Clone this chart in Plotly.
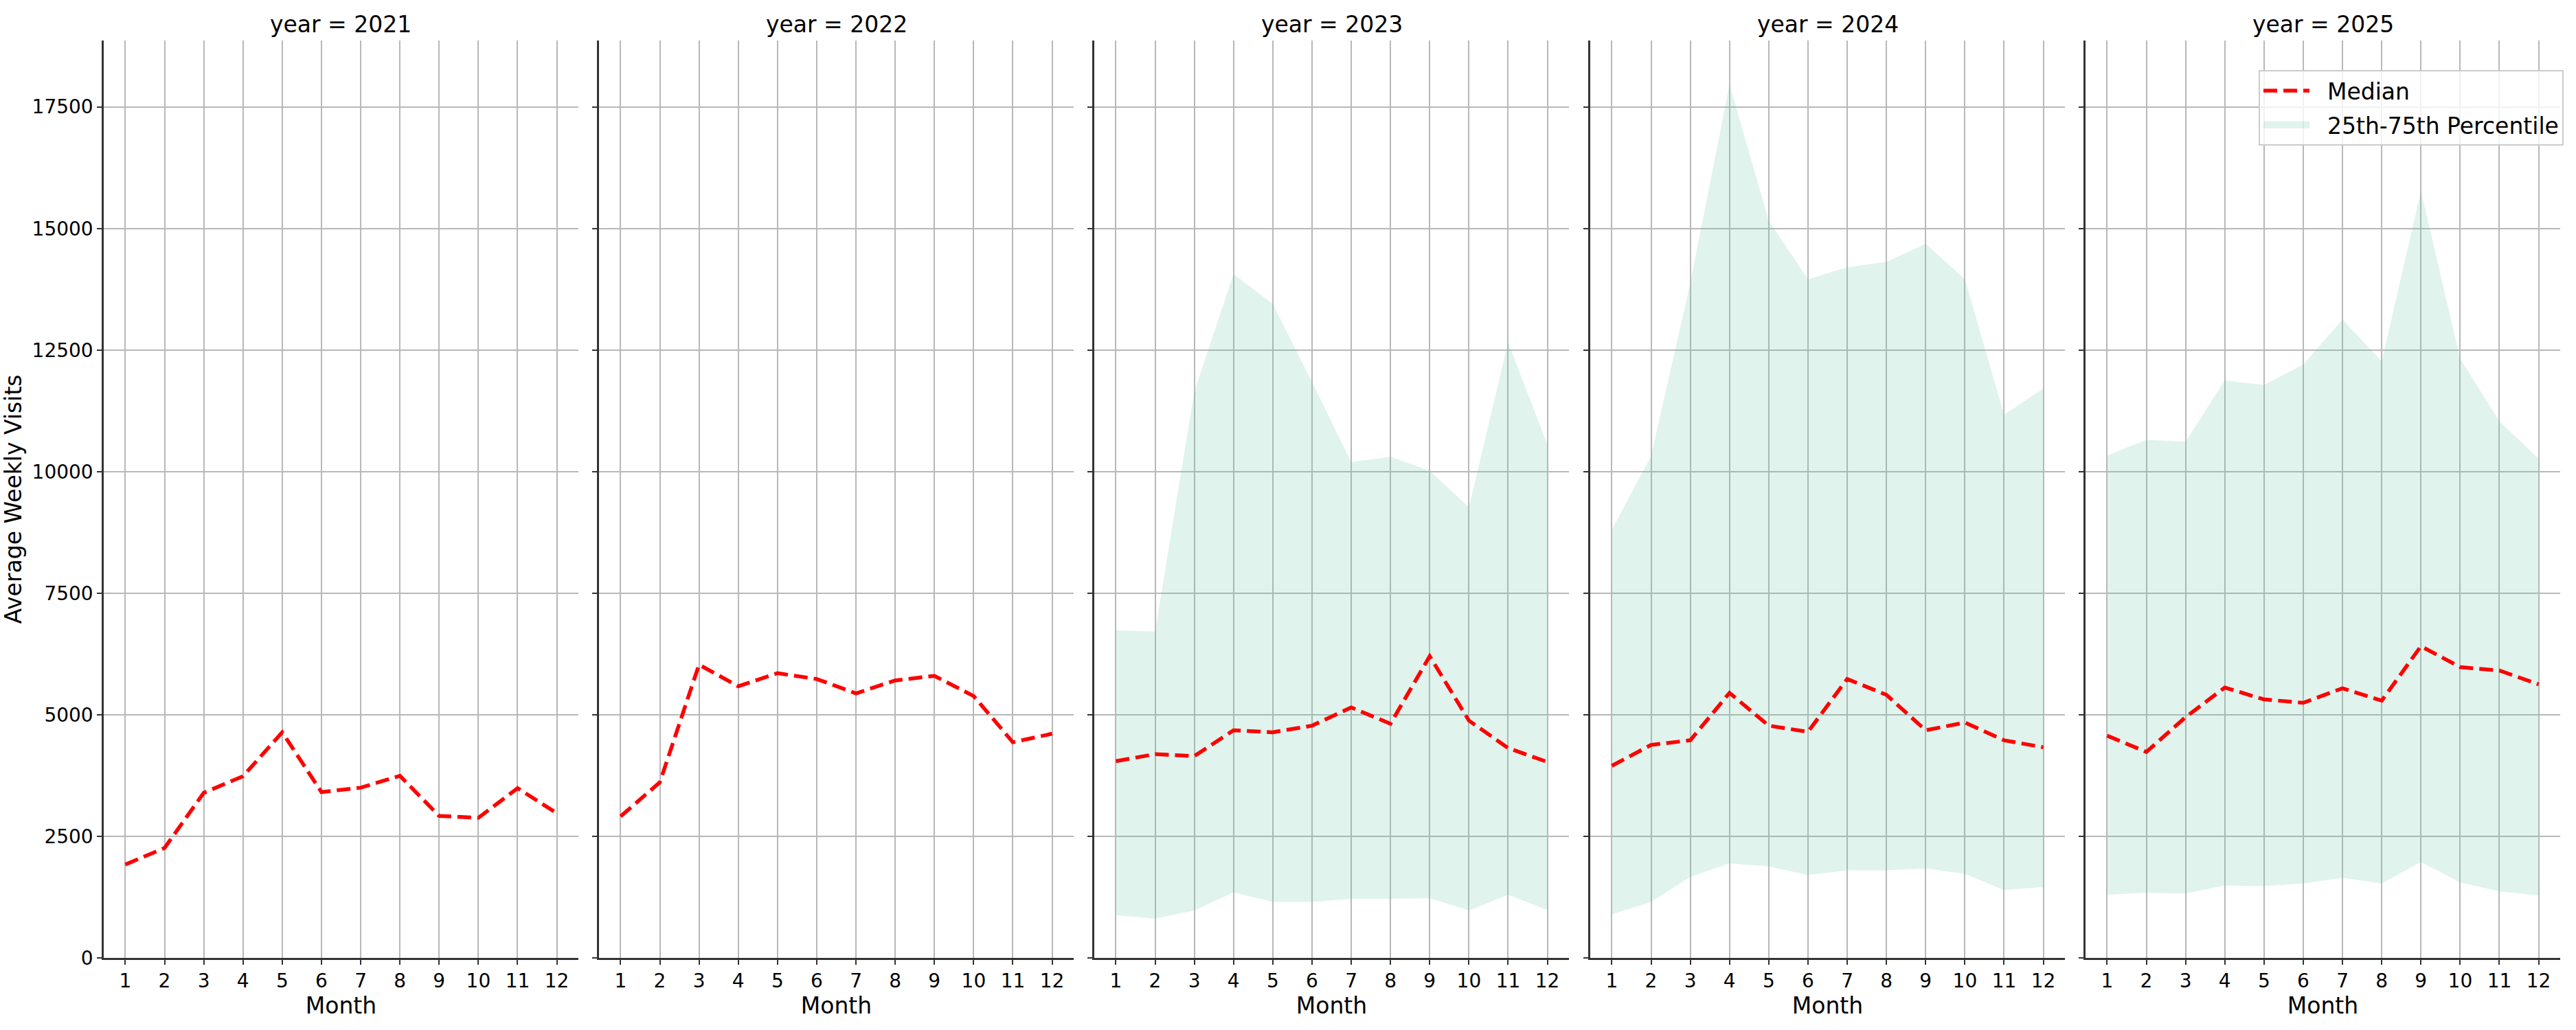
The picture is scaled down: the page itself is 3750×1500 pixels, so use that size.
import plotly.graph_objects as go

months = list(range(1, 13))
years = [2021, 2022, 2023, 2024, 2025]

median_2021 = [1920, 2260, 3395, 3735, 4640, 3410, 3500, 3745, 2920, 2880, 3490, 2975]
median_2022 = [2910, 3610, 6030, 5585, 5855, 5735, 5440, 5705, 5800, 5385, 4435, 4610]
median_2023 = [4045, 4190, 4150, 4680, 4640, 4775, 5150, 4815, 6205, 4880, 4315, 4030]
median_2024 = [3950, 4380, 4475, 5450, 4775, 4650, 5735, 5410, 4680, 4840, 4475, 4330]
median_2025 = [4570, 4235, 4950, 5560, 5315, 5245, 5545, 5290, 6410, 5980, 5910, 5625]

p75_2023 = [6735, 6710, 11645, 14065, 13445, 11845, 10195, 10305, 10020, 9265, 12660, 10550]
p75_2024 = [8805, 10320, 13875, 17960, 15160, 13955, 14200, 14310, 14685, 13955, 11170, 11710]
p75_2025 = [10330, 10655, 10615, 11875, 11780, 12200, 13130, 12265, 15770, 12320, 11035, 10265]

p25_2023 = [880, 810, 975, 1350, 1150, 1150, 1215, 1215, 1230, 975, 1300, 985]
p25_2024 = [895, 1150, 1665, 1945, 1880, 1705, 1800, 1800, 1840, 1730, 1395, 1460]
p25_2025 = [1300, 1340, 1325, 1490, 1475, 1530, 1650, 1530, 1975, 1555, 1365, 1285]

y_ticks = [0, 2500, 5000, 7500, 10000, 12500, 15000, 17500]

medians = [median_2021, median_2022, median_2023, median_2024, median_2025]
uppers = [None, None, p75_2023, p75_2024, p75_2025]
lowers = [None, None, p25_2023, p25_2024, p25_2025]

W, H = 3750, 1500
FONT = "DejaVu Sans"
FILL = "rgba(102,194,165,0.2)"
PAD = "\u00a0\u00a0"
panel_left = [151, 872, 1593, 2315, 3036]
panel_w = 691
top_px, bot_px = 59, 1395
ydom = [1 - bot_px / H, 1 - top_px / H]

fig = go.Figure()
for i, yr in enumerate(years):
    sfx = "" if i == 0 else str(i + 1)
    xa, ya = "x" + sfx, "y" + sfx
    if uppers[i] is not None:
        fig.add_trace(go.Scatter(x=months, y=lowers[i], mode="lines", line=dict(width=0, color="rgba(0,0,0,0)"),
                                 showlegend=False, hoverinfo="skip", xaxis=xa, yaxis=ya))
        fig.add_trace(go.Scatter(x=months, y=uppers[i], mode="lines", line=dict(width=0, color="rgba(0,0,0,0)"),
                                 fill="tonexty", fillcolor=FILL,
                                 name="25th-75th Percentile", legendgroup="iqr",
                                 showlegend=False, xaxis=xa, yaxis=ya))
    fig.add_trace(go.Scatter(x=months, y=medians[i], mode="lines",
                             line=dict(color="#ff0000", width=5.5, dash="20px,9px"),
                             name=PAD + "Median", legendgroup="med", legendrank=1,
                             showlegend=(i == 0), xaxis=xa, yaxis=ya))

# legend-only entry for the percentile band (drawn as a thick swatch)
fig.add_trace(go.Scatter(x=[None], y=[None], mode="lines", line=dict(color=FILL, width=22),
                         name=PAD + "25th-75th Percentile", legendgroup="iqr", legendrank=2,
                         showlegend=True, xaxis="x5", yaxis="y5"))

layout = dict(
    width=W, height=H, margin=dict(l=0, r=0, t=0, b=0, autoexpand=False),
    paper_bgcolor="white", plot_bgcolor="white",
    font=dict(family=FONT, color="black", size=28),
    legend=dict(x=3732 / W, y=1 - 102 / H, xanchor="right", yanchor="top",
                bgcolor="rgba(255,255,255,0.8)", bordercolor="#cccccc", borderwidth=2,
                font=dict(size=33, family=FONT), itemwidth=67, tracegroupgap=4),
    annotations=[],
)
for i, yr in enumerate(years):
    sfx = "" if i == 0 else str(i + 1)
    x0 = panel_left[i] / W
    x1 = (panel_left[i] + panel_w) / W
    layout["xaxis" + sfx] = dict(
        domain=[x0, x1], anchor="y" + sfx, range=[0.45, 12.55], automargin=False,
        tickmode="array", tickvals=months, ticktext=[str(m) for m in months],
        showgrid=True, gridcolor="#b8b8b8", gridwidth=2, zeroline=False,
        showline=True, linecolor="#333333", linewidth=2.5,
        ticks="outside", ticklen=7, tickwidth=2, tickcolor="#333333",
        tickfont=dict(size=28, family=FONT),
        title=dict(text="Month", font=dict(size=33, family=FONT), standoff=6),
    )
    ya = dict(
        domain=ydom, anchor="x" + sfx, range=[0, 18865], automargin=False,
        tickmode="array", tickvals=y_ticks, ticktext=[str(v) for v in y_ticks],
        showgrid=True, gridcolor="#b8b8b8", gridwidth=2, zeroline=False,
        showline=True, linecolor="#333333", linewidth=2.5,
        ticks="outside", ticklen=7, tickwidth=2, tickcolor="#333333",
        tickfont=dict(size=28, family=FONT), showticklabels=(i == 0),
    )
    if i == 0:
        ya["title"] = dict(text="Average Weekly Visits", font=dict(size=33, family=FONT), standoff=10)
    else:
        ya["matches"] = "y"
    layout["yaxis" + sfx] = ya
    layout["annotations"].append(dict(
        text=f"year = {yr}", x=(x0 + x1) / 2, y=ydom[1], xref="paper", yref="paper",
        xanchor="center", yanchor="bottom", yshift=2, showarrow=False,
        font=dict(size=33, family=FONT, color="black"),
    ))

fig.update_layout(**layout)
fig.write_html("out.html")
